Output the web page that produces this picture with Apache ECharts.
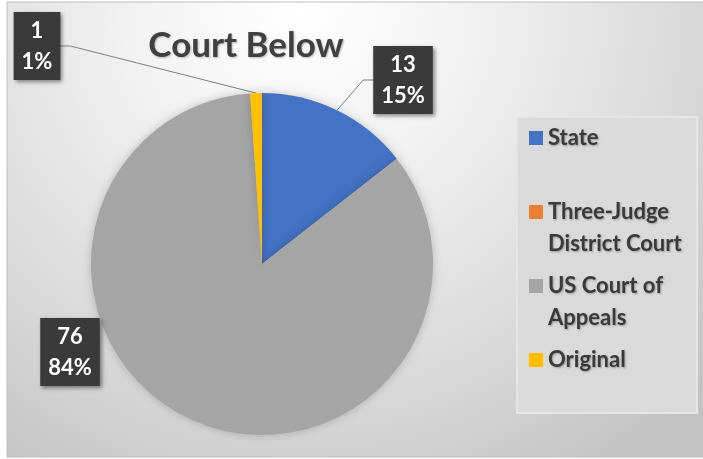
<!DOCTYPE html>
<html>
<head>
<meta charset="utf-8">
<script src="https://cdn.jsdelivr.net/npm/echarts@6/dist/echarts.min.js"></script>
<style>
  html, body { margin: 0; padding: 0; background: #fff; }
  #chart { width: 703px; height: 459px; }
</style>
</head>
<body>
<div id="chart"></div>
<script>
// data
var categories = ['State', 'Three-Judge District Court', 'US Court of Appeals', 'Original'];
var legendText = ['State', 'Three-Judge\nDistrict Court', 'US Court of\nAppeals', 'Original'];
var counts = [13, 0, 76, 1];
var colors = ['#4472c4', '#ed7d31', '#a5a5a5', '#ffc000'];

// where the data label boxes sit (centre points)
var labelPos = [[403, 80], [0, 0], [70, 352], [37, 46]];
// vertical centre of each legend square
var legendIconY = [138, 212, 286, 360];

var FONT = 'Lato';
var LH = 32;
var chart = echarts.init(document.getElementById('chart'));

var pieData = [];
for (var i = 0; i < categories.length; i++) {
  var item = { name: categories[i], value: counts[i], itemStyle: { color: colors[i] } };
  if (counts[i] === 0) {
    item.label = { show: false };
    item.labelLine = { show: false };
  }
  if (i === 2) item.labelLine = { show: false };
  pieData.push(item);
}

var legends = [];
for (var j = 0; j < categories.length; j++) {
  var twoLine = legendText[j].indexOf('\n') >= 0;
  // a blank first line keeps the square level with the first text line
  var shown = twoLine ? '\n' + legendText[j] : legendText[j];
  legends.push({
    data: [categories[j]],
    left: 529,
    top: legendIconY[j] - 7 - (twoLine ? 1.5 * LH - 7 : LH / 2 - 7),
    padding: 0,
    itemWidth: 14,
    itemHeight: 14,
    icon: 'rect',
    selectedMode: false,
    formatter: (function (t) { return function () { return t; }; })(shown),
    textStyle: {
      fontFamily: FONT,
      fontSize: 22,
      fontWeight: 'bold',
      color: '#3a3a3a',
      lineHeight: LH,
      textShadowColor: 'rgba(0,0,0,0.3)',
      textShadowBlur: 2,
      textShadowOffsetX: 1,
      textShadowOffsetY: 1
    }
  });
}

chart.setOption({
  animation: false,
  backgroundColor: '#ffffff',
  graphic: [
    {
      type: 'rect',
      z: -10,
      silent: true,
      shape: { x: 7, y: 2, width: 700, height: 455 },
      style: {
        fill: {
          type: 'radial', global: true, x: 300, y: 10, r: 560,
          colorStops: [
            { offset: 0, color: '#ffffff' },
            { offset: 0.3, color: '#f2f2f2' },
            { offset: 0.65, color: '#dcdcdc' },
            { offset: 1, color: '#c2c2c2' }
          ]
        },
        stroke: '#bdbdbd',
        lineWidth: 1
      }
    },
    {
      type: 'rect',
      z: -9,
      silent: true,
      shape: { x: 517, y: 117, width: 180, height: 296 },
      style: { fill: '#dadada', stroke: '#e6e6e6', lineWidth: 2 }
    }
  ],
  title: {
    text: 'Court Below',
    left: 241,
    top: 23,
    textAlign: 'center',
    textStyle: {
      fontFamily: FONT,
      fontSize: 35,
      fontWeight: 'bold',
      color: '#404040',
      textShadowColor: 'rgba(0,0,0,0.25)',
      textShadowBlur: 2,
      textShadowOffsetX: 1,
      textShadowOffsetY: 1
    }
  },
  legend: legends,
  series: [{
    type: 'pie',
    center: [262, 264],
    radius: 171,
    startAngle: 90,
    clockwise: true,
    percentPrecision: 0,
    avoidLabelOverlap: false,
    itemStyle: {
      borderWidth: 0,
      shadowBlur: 10,
      shadowColor: 'rgba(0,0,0,0.2)'
    },
    label: {
      show: true,
      position: 'outside',
      formatter: '{c}\n{d}%',
      fontFamily: FONT,
      fontSize: 22,
      fontWeight: 'bold',
      color: '#ffffff',
      lineHeight: 31,
      align: 'center',
      backgroundColor: '#3a3a3a',
      padding: [3, 8, 3, 8],
      shadowColor: 'rgba(0,0,0,0.45)',
      shadowBlur: 4,
      shadowOffsetX: 2,
      shadowOffsetY: 2
    },
    labelLine: {
      show: true,
      length: 10,
      length2: 10,
      lineStyle: { color: '#7f7f7f', width: 1 }
    },
    labelLayout: function (params) {
      var p = labelPos[params.dataIndex];
      return { x: p[0], y: p[1], align: 'center', verticalAlign: 'middle' };
    },
    data: pieData
  }]
});
</script>
</body>
</html>
